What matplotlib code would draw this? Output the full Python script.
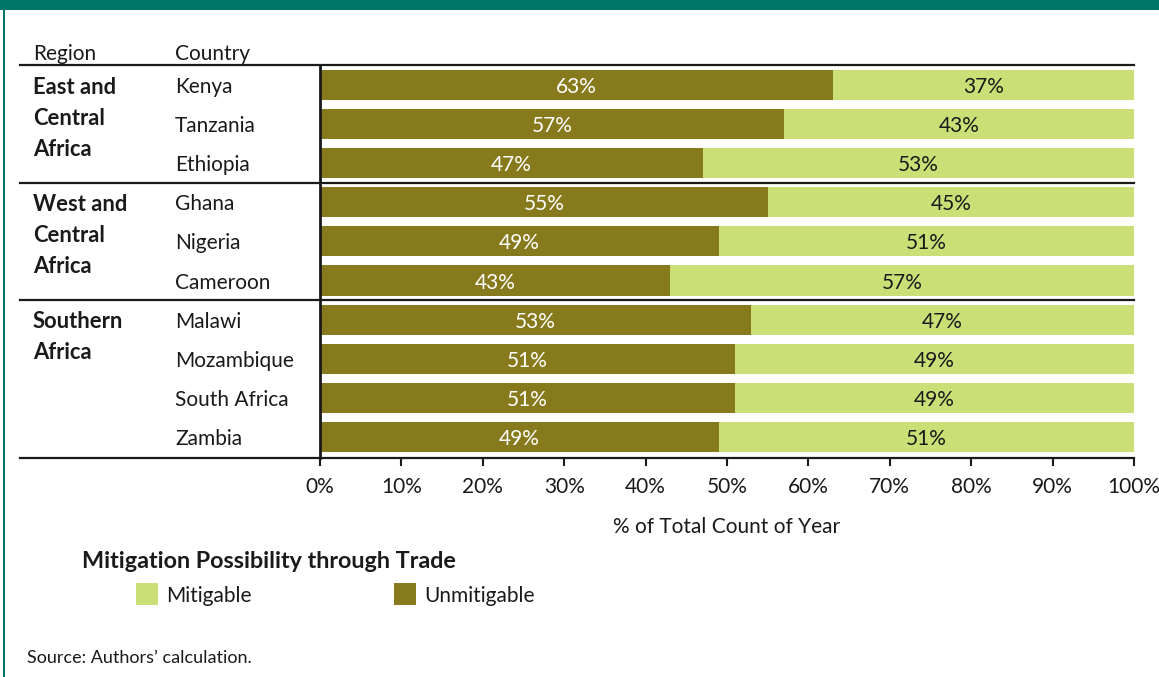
import matplotlib
matplotlib.use("Agg")
import matplotlib.pyplot as plt
from matplotlib.patches import Rectangle
from matplotlib.lines import Line2D
from matplotlib.transforms import blended_transform_factory, offset_copy
import numpy as np

# ---- data ----
countries = ["Kenya", "Tanzania", "Ethiopia", "Ghana", "Nigeria", "Cameroon",
             "Malawi", "Mozambique", "South Africa", "Zambia"]
regions = [["East and", "Central", "Africa"],
           ["West and", "Central", "Africa"],
           ["Southern", "Africa"]]
region_sizes = [3, 3, 4]
unmitigable = [63, 57, 47, 55, 49, 43, 53, 51, 51, 49]
mitigable = [37, 43, 53, 45, 51, 57, 47, 49, 49, 51]
xticks = [0, 10, 20, 30, 40, 50, 60, 70, 80, 90, 100]

DARK = "#877A1C"
LIGHT = "#CBDF77"
TEAL = "#00766A"
INK = "#1a1a1a"

plt.rcParams["font.family"] = ["Lato", "DejaVu Sans"]
FS = 15

W, H = 1159, 677
fig = plt.figure(figsize=(W / 100, H / 100), dpi=100)


def fx(px):
    return px / W


def fy(py):
    return 1 - py / H


# frame: teal band on top and a thin rule on the left
fig.patches.append(Rectangle((0, fy(10)), 1, 10 / H, transform=fig.transFigure,
                             facecolor=TEAL, edgecolor="none"))
fig.patches.append(Rectangle((fx(2.5), 0), 2.2 / W, 1, transform=fig.transFigure,
                             facecolor=TEAL, edgecolor="none"))

ax = fig.add_axes([fx(320), fy(458), fx(1134) - fx(320), (458 - 65) / H])
n = len(countries)
y = np.arange(n)
bh = 0.77
ax.barh(y, unmitigable, height=bh, color=DARK, left=0)
ax.barh(y, mitigable, height=bh, color=LIGHT, left=unmitigable)

txt_tr = offset_copy(ax.transData, fig=fig, y=-1.5, units="points")
for i in range(n):
    ax.text(unmitigable[i] / 2, y[i], f"{unmitigable[i]}%", ha="center",
            va="center", color="white", fontsize=FS, transform=txt_tr)
    ax.text(unmitigable[i] + mitigable[i] / 2, y[i], f"{mitigable[i]}%",
            ha="center", va="center", color=INK, fontsize=FS, transform=txt_tr)

ytop, ybot = -0.51, 9.54
ax.set_xlim(0, 100)
ax.set_ylim(ybot, ytop)
ax.set_yticks([])
ax.set_xticks(xticks)
ax.set_xticklabels([f"{t}%" for t in xticks], fontsize=FS, color=INK)
ax.tick_params(axis="x", direction="out", length=6, width=1.5, pad=8, color=INK)
for s in ["top", "right", "bottom"]:
    ax.spines[s].set_visible(False)
ax.spines["left"].set_linewidth(2)
ax.spines["left"].set_color(INK)
ax.set_xlabel("% of Total Count of Year", fontsize=FS, color=INK, labelpad=14)

# horizontal rules spanning the label columns and the bars
tr = blended_transform_factory(fig.transFigure, ax.transData)
bounds = np.cumsum([0] + region_sizes)
rule_y = [ytop] + [b - 0.5 for b in bounds[1:-1]] + [ybot]
for yy in rule_y:
    fig.lines.append(Line2D([fx(20), fx(1134)], [yy, yy], transform=tr,
                            color=INK, linewidth=1.6, clip_on=False))

# table headers and labels
lab_tr = offset_copy(tr, fig=fig, y=-1.5, units="points")
fig.text(fx(33), fy(53.5), "Region", fontsize=FS, color=INK, ha="left", va="center")
fig.text(fx(175), fy(53.5), "Country", fontsize=FS, color=INK, ha="left", va="center")
for i, c in enumerate(countries):
    fig.text(fx(175), 0, c, transform=lab_tr, fontsize=FS, color=INK,
             ha="left", va="center").set_y(y[i])
for r, start in zip(regions, bounds[:-1]):
    for k, line in enumerate(r):
        t = fig.text(fx(33), 0, line, transform=lab_tr, fontsize=15.8, color=INK,
                     ha="left", va="center", fontweight="bold")
        t.set_y(start + 0.8 * k)

# legend
fig.text(fx(82), fy(561), "Mitigation Possibility through Trade", fontsize=16.8,
         fontweight="bold", color=INK, ha="left", va="center")
legend_items = [("Mitigable", LIGHT, 136), ("Unmitigable", DARK, 394)]
for label, col, x0 in legend_items:
    fig.patches.append(Rectangle((fx(x0), fy(605)), 22 / W, 22 / H,
                                 transform=fig.transFigure, facecolor=col,
                                 edgecolor="none"))
    fig.text(fx(x0 + 30), fy(596), label, fontsize=FS, color=INK,
             ha="left", va="center")

fig.text(fx(27), fy(658), "Source: Authors\u2019 calculation.", fontsize=13,
         color=INK, ha="left", va="center")

fig.savefig("out.png", dpi=100)
